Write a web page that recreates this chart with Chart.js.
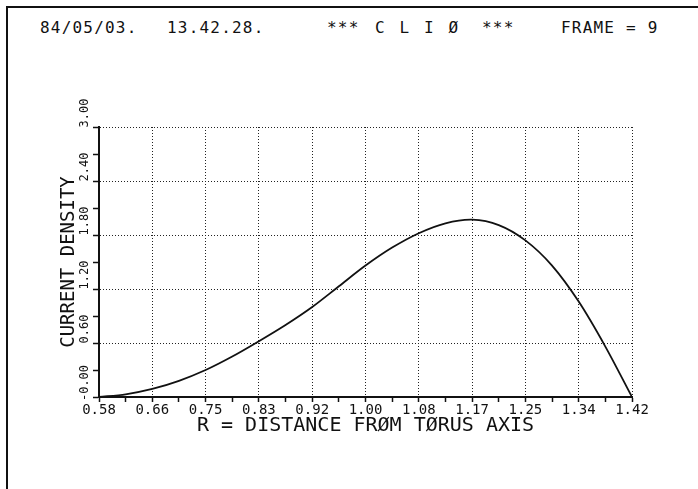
<!DOCTYPE html>
<html>
<head>
<meta charset="utf-8">
<script src="https://cdn.jsdelivr.net/npm/chart.js@4.4.1/dist/chart.umd.min.js"></script>
<style>
  html, body { margin: 0; padding: 0; background: #fff; }
  #wrap { position: relative; width: 698px; height: 489px; overflow: hidden; background: #fff; }
  #frame { position: absolute; left: 6px; top: 6px; right: -4px; bottom: -4px; border-left: 2px solid #111; border-top: 2px solid #111; }
  .hdr { position: absolute; top: 20px; font-family: 'DejaVu Sans Mono', monospace; font-size: 16px; line-height: 16px; color: #111; letter-spacing: 1.2px; white-space: pre; }
  canvas { position: absolute; left: 0; top: 0; }
</style>
</head>
<body>
<div id="wrap">
  <div id="frame"></div>
  <div class="hdr" style="left:40px">84/05/03.</div>
  <div class="hdr" style="left:167px">13.42.28.</div>
  <div class="hdr" style="left:327px">***</div>
  <div class="hdr" style="left:375px; letter-spacing:2.6px">C L I Ø</div>
  <div class="hdr" style="left:482px">***</div>
  <div class="hdr" style="left:561px">FRAME = 9</div>
  <canvas id="chartCurrent" width="698" height="489"></canvas>
</div>
<script>
// R values and current density
let radius = [0.580, 0.622, 0.664, 0.706, 0.748, 0.790, 0.832, 0.874, 0.916, 0.958, 1.000,
              1.042, 1.084, 1.126, 1.168, 1.210, 1.252, 1.294, 1.336, 1.378, 1.420];
let density = [0.00, 0.03, 0.09, 0.18, 0.30, 0.45, 0.62, 0.80, 1.00, 1.23, 1.46,
               1.66, 1.82, 1.93, 1.97, 1.91, 1.74, 1.46, 1.06, 0.56, 0.00];

let xTickLabels = ['0.58', '0.66', '0.75', '0.83', '0.92', '1.00', '1.08', '1.17', '1.25', '1.34', '1.42'];
let yTickLabels = ['-0.00', '0.60', '1.20', '1.80', '2.40', '3.00'];

let xMin = 0.58, xMax = 1.42;
let yMin = 0, yMax = 3;

// major ticks carry a label, minor ticks sit halfway between
function withMinor(min, max, labels) {
    let n = (labels.length - 1) * 2;
    let out = [];
    for (let i = 0; i <= n; i++) out.push({ value: min + (max - min) * i / n });
    return out;
}

let ctx = document.querySelector('#chartCurrent').getContext('2d');

let config = {
    type: 'line',
    data: {
        datasets: [{
            data: radius.map((r, i) => ({ x: r, y: density[i] })),
            borderColor: '#111',
            borderWidth: 1.8,
            pointRadius: 0,
            tension: 0.3,
            fill: false
        }]
    },
    options: {
        responsive: false,
        animation: false,
        events: [],
        layout: { padding: { left: 0, top: 127, right: 66, bottom: 0 } },
        plugins: {
            legend: { display: false },
            tooltip: { enabled: false }
        },
        scales: {
            x: {
                type: 'linear',
                min: xMin,
                max: xMax,
                afterBuildTicks: s => { s.ticks = withMinor(xMin, xMax, xTickLabels); },
                afterFit: s => { s.height = 92; },
                border: { display: true, color: '#111', width: 2, dash: [1, 2] },
                grid: {
                    color: c => (c.index % 2 ? 'rgba(0,0,0,0)' : '#222'),
                    lineWidth: 1,
                    tickLength: 5,
                    tickColor: '#111',
                    tickWidth: 1.5,
                    tickBorderDash: []
                },
                ticks: {
                    autoSkip: false,
                    maxRotation: 0,
                    minRotation: 0,
                    padding: 0,
                    color: '#111',
                    font: { family: 'DejaVu Sans Mono', size: 14 },
                    callback: (v, i) => (i % 2 ? '' : xTickLabels[i / 2])
                },
                title: {
                    display: true,
                    text: 'R = DISTANCE FRØM TØRUS AXIS',
                    color: '#111',
                    font: { family: 'DejaVu Sans Mono', size: 20 },
                    padding: { top: 0, bottom: 51 }
                }
            },
            y: {
                type: 'linear',
                min: yMin,
                max: yMax,
                afterBuildTicks: s => { s.ticks = withMinor(yMin, yMax, yTickLabels); },
                afterFit: s => { s.width = 99; },
                border: { display: true, color: '#111', width: 2, dash: [1, 2] },
                grid: {
                    color: c => (c.index % 2 ? 'rgba(0,0,0,0)' : '#222'),
                    lineWidth: 1,
                    tickLength: 6,
                    tickColor: '#111',
                    tickWidth: 1.5,
                    tickBorderDash: []
                },
                ticks: {
                    autoSkip: false,
                    minRotation: 90,
                    maxRotation: 90,
                    crossAlign: 'center',
                    labelOffset: -14,
                    padding: -10,
                    color: '#111',
                    font: { family: 'DejaVu Sans Mono', size: 12 },
                    callback: (v, i) => (i % 2 ? '' : yTickLabels[i / 2])
                },
                title: {
                    display: true,
                    text: 'CURRENT DENSITY',
                    color: '#111',
                    font: { family: 'DejaVu Sans Mono', size: 19 },
                    padding: { top: 58, bottom: 0 }
                }
            }
        }
    }
};

let chartCurrent = new Chart(ctx, config);
</script>
</body>
</html>
